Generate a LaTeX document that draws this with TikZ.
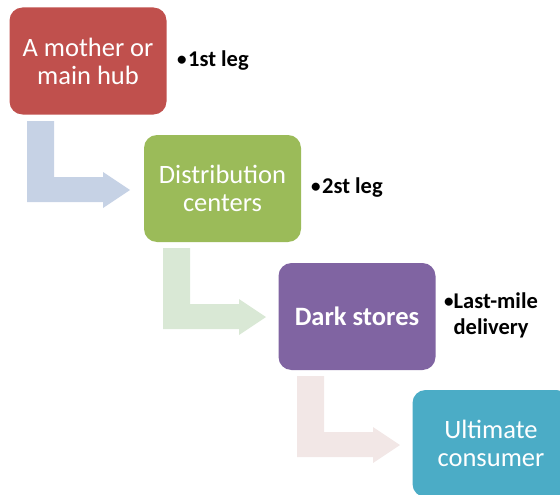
\documentclass[tikz,border=0pt]{standalone}
\usepackage{fontspec}
\setmainfont{Carlito}
\definecolor{hubred}{HTML}{C0504D}
\definecolor{dcgreen}{HTML}{9BBB59}
\definecolor{dspurple}{HTML}{8064A2}
\definecolor{ucteal}{HTML}{4BACC6}
\definecolor{arrA}{HTML}{C6D2E5}
\definecolor{arrB}{HTML}{D9E8D5}
\definecolor{arrC}{HTML}{F2E7E6}
\newcommand\legbul{\raisebox{0.1ex}{\fontsize{19}{19}\selectfont\textbullet}\hspace{1.5pt}}
\tikzset{
  stagebox/.style={rounded corners=13pt, minimum width=157pt, minimum height=107pt,
    text=white, align=center, font=\fontsize{26.5}{28}\selectfont, inner sep=0pt},
  leglabel/.style={align=left, font=\fontsize{22.5}{26}\selectfont\bfseries, inner sep=0pt, anchor=west},
  bentarrow/.pic={
    \fill[pic actions] (0,0) -- (27,0) -- (27,56) -- (76,56) -- (76,51) -- (103,69)
      -- (76,87) -- (76,81) -- (0,81) -- cycle;
  }
}
\begin{document}
\begin{tikzpicture}[x=1pt,y=-1pt]
\useasboundingbox (0,0) rectangle (560,495);
\clip (0,0) rectangle (560,495);
% boxes
\node[stagebox, fill=hubred] (hub) at (88,61) {A mother or\\main hub};
\node[stagebox, fill=dcgreen] (dc) at (222.5,188.5) {Distribution\\centers};
\node[stagebox, fill=dspurple, font=\fontsize{26.5}{28}\selectfont\bfseries] (ds) at (357,316.5) {Dark stores};
\node[stagebox, fill=ucteal] (uc) at (491,443.5) {Ultimate\\consumer};
% bent arrows
\pic[fill=arrA] at (27,121) {bentarrow};
\pic[fill=arrB] at (163,248) {bentarrow};
\pic[fill=arrC] at (297,376) {bentarrow};
% labels
\node[leglabel] (l1) at (177,61) {\legbul 1st leg};
\node[leglabel] (l2) at (311,188) {\legbul 2st leg};
\node[leglabel] (l3) at (444,316) {\begin{tabular}{@{}l@{}l@{}}\legbul & Last-mile\\ & delivery\end{tabular}};
\end{tikzpicture}
\end{document}
